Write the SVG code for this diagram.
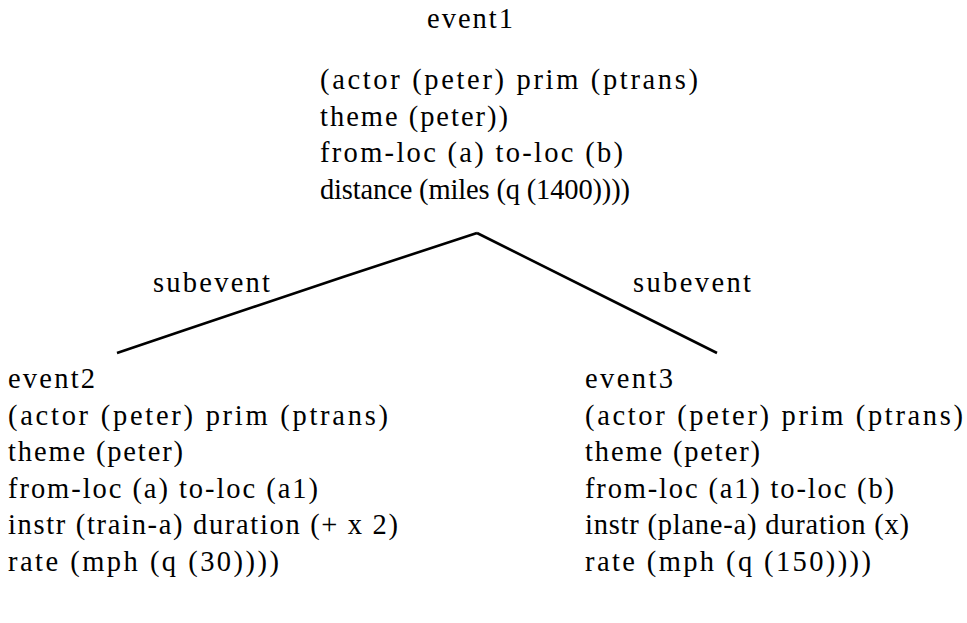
<svg xmlns="http://www.w3.org/2000/svg" width="967" height="623" viewBox="0 0 967 623">
<style>
text{font-family:"Liberation Serif","Times New Roman",serif;font-size:28.5px;fill:#000}
.c{fill:none;stroke:#000;stroke-width:2.6;stroke-linejoin:round}
</style>
<rect width="967" height="623" fill="#fff"/>
<g id="connectors">
<polyline class="c" points="117,353 185,330 343,277 477,233"/>
<polyline class="c" points="477,233 637,313 717,353"/>
<text x="153" y="292" textLength="117" lengthAdjust="spacing">subevent</text>
<text x="633" y="292" textLength="118" lengthAdjust="spacing">subevent</text>
</g>
<g id="event1">
<text x="427" y="28" textLength="86" lengthAdjust="spacing">event1</text>
<text x="320" y="89" textLength="378" lengthAdjust="spacing">(actor (peter) prim (ptrans)</text>
<text x="320" y="125.5" textLength="188" lengthAdjust="spacing">theme (peter))</text>
<text x="320" y="162" textLength="303" lengthAdjust="spacing">from-loc (a) to-loc (b)</text>
<text x="320" y="198.5" textLength="310" lengthAdjust="spacing">distance (miles (q (1400))))</text>
</g>
<g id="event2">
<text x="8" y="388" textLength="87" lengthAdjust="spacing">event2</text>
<text x="8" y="424.6" textLength="380" lengthAdjust="spacing">(actor (peter) prim (ptrans)</text>
<text x="8" y="461.2" textLength="175" lengthAdjust="spacing">theme (peter)</text>
<text x="8" y="497.8" textLength="310" lengthAdjust="spacing">from-loc (a) to-loc (a1)</text>
<text x="8" y="534.4" textLength="390" lengthAdjust="spacing">instr (train-a) duration (+ x 2)</text>
<text x="8" y="571" textLength="271" lengthAdjust="spacing">rate (mph (q (30))))</text>
</g>
<g id="event3">
<text x="585" y="388" textLength="88" lengthAdjust="spacing">event3</text>
<text x="585" y="424.6" textLength="378" lengthAdjust="spacing">(actor (peter) prim (ptrans)</text>
<text x="585" y="461.2" textLength="175" lengthAdjust="spacing">theme (peter)</text>
<text x="585" y="497.8" textLength="309" lengthAdjust="spacing">from-loc (a1) to-loc (b)</text>
<text x="585" y="534.4" textLength="324" lengthAdjust="spacing">instr (plane-a) duration (x)</text>
<text x="585" y="571" textLength="286" lengthAdjust="spacing">rate (mph (q (150))))</text>
</g>
</svg>
